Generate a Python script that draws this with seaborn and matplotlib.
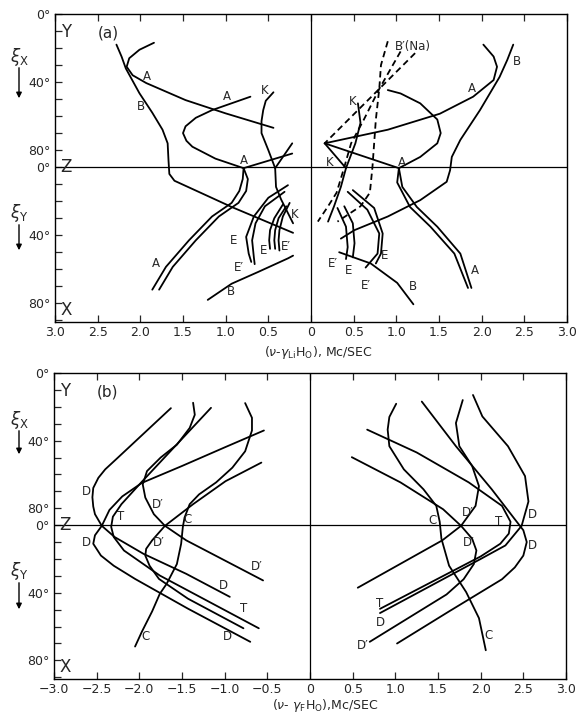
import numpy as np
import pandas as pd
import matplotlib
matplotlib.use("Agg")
import matplotlib.pyplot as plt
import seaborn as sns

# angle axis runs 0..90 for xi_X (Y -> Z) and 90..180 for xi_Y (Z -> X)

# ---------------- panel (a) ----------------
a_B_left = [(-2.28, 18), (-2.22, 25), (-2.17, 32), (-2.01, 46.6), (-1.86, 58), (-1.74, 68), (-1.68, 76),
            (-1.67, 86), (-1.66, 94), (-1.6, 98), (-0.93, 113.4), (-0.21, 128.6)]
a_A_top_left = [(-1.84, 16.9), (-2.01, 21), (-2.13, 26), (-2.16, 31), (-2.09, 36), (-1.93, 40.6),
                (-1.47, 50.6), (-1.0, 58.4), (-0.44, 66.9)]
a_A_loop_left = [(-0.71, 48.6), (-1.16, 56.5), (-1.35, 61), (-1.47, 66), (-1.5, 70), (-1.46, 74.5),
                 (-1.39, 78), (-1.12, 85), (-0.79, 90.6)]
a_A_ray_left = [(-0.79, 90.6), (-0.22, 82)]
a_K_left = [(-0.44, 46), (-0.53, 51), (-0.56, 56.5), (-0.58, 63), (-0.58, 70), (-0.5, 80), (-0.42, 90.6),
            (-0.41, 101.6), (-0.35, 109), (-0.27, 117), (-0.21, 123)]
a_K_ray_left = [(-0.42, 90.6), (-0.22, 76)]
a_A_low_left_out = [(-0.79, 90.6), (-0.8, 97), (-0.84, 104), (-0.93, 111), (-1.16, 119), (-1.43, 133),
                    (-1.7, 148.6), (-1.86, 162)]
a_A_low_left_in = [(-0.79, 90.6), (-0.74, 97), (-0.76, 104), (-0.85, 111), (-1.08, 119), (-1.35, 133),
                   (-1.62, 148.6), (-1.78, 162)]
a_E1_left = [(-0.27, 100.6), (-0.5, 108), (-0.67, 119), (-0.76, 131), (-0.73, 140.8), (-0.7, 145.7)]
a_E2_left = [(-0.31, 104.5), (-0.54, 113), (-0.65, 123), (-0.69, 133), (-0.67, 142.8), (-0.66, 147)]
a_E3_left = [(-0.33, 112), (-0.43, 120), (-0.48, 127), (-0.49, 133), (-0.48, 138)]
a_E4_left = [(-0.29, 113), (-0.38, 120), (-0.42, 127), (-0.43, 133), (-0.42, 138)]
a_E5_left = [(-0.25, 111), (-0.33, 119), (-0.37, 127), (-0.38, 133), (-0.37, 139)]
a_B_low_left = [(-1.21, 168), (-0.93, 158.5), (-0.62, 151.6), (-0.27, 143.6), (-0.21, 142)]

a_B_right = [(2.37, 18), (2.3, 27), (2.21, 37), (1.98, 56.5), (1.75, 74), (1.65, 84), (1.63, 91.8),
             (1.59, 98.6), (1.28, 109.4), (0.9, 119), (0.51, 127), (0.35, 132)]
a_A_loop_right = [(1.03, 90.6), (1.28, 84), (1.48, 76), (1.52, 70), (1.48, 62), (1.28, 52.5),
                  (1.05, 46.7), (0.9, 44.7)]
a_A_ray_right = [(0.16, 76), (1.03, 90.6)]
a_A_right = [(0.16, 76), (0.9, 68), (1.51, 58.6), (1.9, 48.6), (2.14, 38.8), (2.18, 31), (2.14, 25), (2.02, 18)]
a_A_low_right_out = [(1.03, 90.6), (1.07, 101.6), (1.24, 113.4), (1.48, 125), (1.75, 140.8), (1.88, 161)]
a_A_low_right_in = [(1.03, 90.6), (1.01, 99), (1.16, 113.4), (1.4, 125), (1.68, 140.8), (1.84, 161)]
a_K_right = [(0.55, 52.5), (0.58, 64), (0.52, 76), (0.41, 90.6), (0.35, 101.6), (0.27, 113), (0.2, 122)]
a_K_ray_right = [(0.16, 76), (0.41, 90.6)]
a_Na1 = [(1.22, 23), (0.8, 44), (0.16, 76)]
a_Na2 = [(1.05, 22), (0.8, 44), (0.62, 62), (0.47, 76), (0.39, 90), (0.3, 105), (0.2, 113), (0.08, 122)]
a_Na3 = [(0.9, 16), (0.82, 30), (0.8, 44), (0.76, 62), (0.72, 90), (0.69, 105), (0.58, 113), (0.31, 122)]
a_E1_right = [(0.49, 103.5), (0.74, 114), (0.84, 129), (0.82, 140.8), (0.76, 146.6)]
a_E2_right = [(0.43, 104.5), (0.66, 115), (0.8, 129), (0.78, 140.8), (0.64, 149)]
a_E3_right = [(0.31, 114), (0.41, 125), (0.43, 137), (0.41, 144)]
a_E4_right = [(0.39, 113), (0.49, 123), (0.51, 134.7), (0.49, 143)]
a_B_low_right = [(0.33, 140), (0.7, 146.6), (1.01, 158), (1.2, 170.6)]

a_labels = [("A", -1.92, 37), ("A", -0.99, 48.6), ("B", -1.99, 54.5), ("K", -0.54, 44.7), ("A", -0.79, 86),
            ("K", -0.19, 118), ("E", -0.91, 133), ("E", -0.56, 139), ("E′", -0.29, 136.5), ("E′", -0.85, 148.8),
            ("A", -1.82, 146.6), ("B", -0.94, 163),
            ("B′(Na)", 1.19, 19.2), ("B", 2.41, 28), ("A", 1.88, 43.7), ("K", 0.49, 51.6), ("K", 0.22, 87),
            ("A", 1.07, 87), ("E", 0.86, 141.8), ("E′", 0.26, 146.6), ("E", 0.44, 151), ("E′", 0.64, 159.4),
            ("A", 1.92, 150.6), ("B", 1.2, 160.4)]

# ---------------- panel (b) ----------------
b_D_up_L = [(-1.63, 20.8), (-2.25, 50), (-2.4, 57), (-2.48, 62), (-2.54, 68), (-2.55, 73.5), (-2.54, 79),
            (-2.52, 83.5), (-2.44, 90.4), (-2.29, 97), (-1.95, 107), (-1.45, 118.8), (-0.94, 132.4)]
b_T_L = [(-1.16, 20.6), (-1.97, 64.3), (-2.21, 77.6), (-2.31, 85), (-2.33, 91), (-2.3, 97), (-2.18, 105),
         (-1.76, 119.8), (-0.6, 151)]
b_D_low_L = [(-0.54, 34), (-1.0, 44), (-1.5, 55), (-1.97, 65), (-2.2, 73), (-2.35, 81), (-2.44, 90.4),
             (-2.52, 96), (-2.54, 101), (-2.45, 108), (-2.3, 114), (-2.05, 121.8), (-1.43, 139.4), (-0.7, 159)]
b_Dp_low_L = [(-0.57, 53), (-0.99, 64), (-1.37, 77.6), (-1.7, 90.4), (-1.85, 99), (-1.92, 104), (-1.93, 108),
              (-1.88, 114), (-1.77, 121.8), (-1.43, 133.5), (-0.78, 151)]
b_Dp_S_L = [(-1.37, 17.6), (-1.35, 24.7), (-1.41, 32.5), (-1.56, 42.4), (-1.75, 50), (-1.91, 58), (-1.96, 65.9),
            (-1.93, 73.7), (-1.83, 83.5), (-1.7, 90.4), (-1.45, 99), (-0.55, 122.7)]
b_C_L = [(-0.76, 17.8), (-0.68, 26.5), (-0.68, 34), (-0.76, 46.3), (-0.91, 56), (-1.1, 64.7), (-1.3, 71.8),
         (-1.41, 77.6), (-1.47, 85.5), (-1.49, 91), (-1.51, 101), (-1.56, 113), (-1.68, 124.7), (-1.76, 130.6),
         (-1.85, 141), (-1.97, 153), (-2.05, 161.8)]

b_C_R = [(1.01, 18.2), (0.93, 26), (0.91, 33.5), (0.93, 43.3), (1.1, 57), (1.33, 68.8), (1.48, 78.6),
         (1.52, 88), (1.54, 98), (1.63, 114), (1.83, 129.6), (1.98, 145), (2.06, 164)]
b_Dp_S_R = [(1.79, 16), (1.71, 29.6), (1.75, 43.3), (1.9, 55), (1.98, 66.9), (1.94, 78.6), (1.77, 90.4),
            (1.55, 99), (0.56, 127)]
b_D_S_R = [(1.91, 13), (2.02, 25.7), (2.32, 43.3), (2.52, 61), (2.56, 76), (2.48, 90.4), (2.29, 102),
           (2.0, 110), (0.82, 142)]
b_T_R = [(0.67, 33.5), (1.25, 47), (1.86, 64.7), (2.25, 78.6), (2.35, 88), (2.33, 95), (2.23, 101),
         (2.0, 108.5), (0.82, 139.5)]
b_D_low_R = [(1.31, 16.9), (1.71, 43.3), (2.13, 68.8), (2.4, 86.5), (2.5, 93), (2.54, 100), (2.5, 108),
             (2.4, 115), (2.25, 122), (1.63, 141), (1.02, 160)]
b_Dp_low_R = [(0.49, 49.8), (1.06, 64.7), (1.56, 80.6), (1.77, 90.4), (1.9, 98), (1.95, 105), (1.92, 113),
              (1.8, 122), (1.6, 131), (0.7, 159)]

b_labels = [("D", -2.62, 69.8), ("T", -2.22, 85), ("D′", -1.79, 77.6), ("C", -1.43, 86.5), ("D", -2.62, 100),
            ("D′", -1.77, 100), ("D′", -0.62, 114.7), ("D", -1.01, 125.7), ("T", -0.78, 139.4), ("D", -0.97, 156),
            ("C", -1.93, 156),
            ("C", 1.43, 87.5), ("D′", 1.85, 82.5), ("T", 2.21, 88), ("D", 2.61, 83.5), ("D′", 1.86, 100),
            ("D", 2.61, 102), ("T", 0.82, 136.5), ("D", 0.82, 147.5), ("D′", 0.62, 161), ("C", 2.09, 155)]

a_curves = [a_B_left, a_A_top_left, a_A_loop_left, a_A_ray_left, a_K_left, a_K_ray_left, a_A_low_left_out,
            a_A_low_left_in, a_E1_left, a_E2_left, a_E3_left, a_E4_left, a_E5_left, a_B_low_left,
            a_B_right, a_A_loop_right, a_A_ray_right, a_A_right, a_A_low_right_out, a_A_low_right_in,
            a_K_right, a_K_ray_right, a_E1_right, a_E2_right, a_E3_right, a_E4_right, a_B_low_right]
a_dashed = [a_Na1, a_Na2, a_Na3]
b_curves = [b_D_up_L, b_T_L, b_D_low_L, b_Dp_low_L, b_Dp_S_L, b_C_L,
            b_C_R, b_Dp_S_R, b_D_S_R, b_T_R, b_D_low_R, b_Dp_low_R]

xticks = np.arange(-3, 3.01, 0.5)
yticks = np.arange(0, 181, 10)
ytick_names = {0: "0°", 40: "40°", 80: "80°", 90: "0°", 130: "40°", 170: "80°"}


def to_frame(solid, dashed):
    rows = []
    k = 0
    for group, kind in ((solid, "solid"), (dashed, "dashed")):
        for pts in group:
            for v, d in pts:
                rows.append((k, v, d, kind))
            k += 1
    return pd.DataFrame(rows, columns=["curve", "nu", "ang", "kind"])


def draw_panel(ax, df, labels, tag, xnames):
    sns.lineplot(data=df, x="nu", y="ang", units="curve", estimator=None, sort=False,
                 style="kind", dashes={"solid": "", "dashed": (3.5, 2.2)},
                 color="black", lw=1.3, legend=False, ax=ax)
    ax.axhline(90, color="black", lw=0.9)
    ax.axvline(0, color="black", lw=0.9)
    for t, v, d in labels:
        ax.text(v, d, t, ha="center", va="center", fontsize=8.5)
    ax.text(-2.87, 10.5, "Y", ha="center", va="center", fontsize=12)
    ax.text(-2.87, 90, "Z", ha="center", va="center", fontsize=12)
    ax.text(-2.87, 174, "X", ha="center", va="center", fontsize=12)
    ax.text(-2.37, 11, tag, ha="center", va="center", fontsize=11)
    ax.set_xlim(-3, 3)
    ax.set_ylim(181, 0)
    ax.set_xticks(xticks)
    ax.set_xticklabels(xnames)
    ax.set_yticks(yticks)
    ax.set_yticklabels([ytick_names.get(int(t), "") for t in yticks])
    ax.tick_params(direction="in", top=True, length=5, width=0.9, labelsize=9, pad=3)
    ax.set_xlabel("")
    ax.set_ylabel("")
    for s in ax.spines.values():
        s.set_linewidth(1.0)
        s.set_color("black")


sns.set_style("ticks")
plt.rcParams["font.family"] = ["DejaVu Sans"]
plt.rcParams["mathtext.fontset"] = "dejavusans"

fig = plt.figure(figsize=(5.79, 7.16), dpi=100)
ax1 = fig.add_axes([55 / 579, 1 - 322 / 716, 512 / 579, 308 / 716])
ax2 = fig.add_axes([54 / 579, 1 - 679 / 716, 512 / 579, 306 / 716])

names_a = ["0" if abs(t) < 1e-9 else f"{abs(t):.1f}" for t in xticks]
names_b = ["0" if abs(t) < 1e-9 else f"{t:.1f}".replace("-", "−") for t in xticks]

draw_panel(ax1, to_frame(a_curves, a_dashed), a_labels, "(a)", names_a)
draw_panel(ax2, to_frame(b_curves, []), b_labels, "(b)", names_b)

fig.text(318 / 579, 1 - 353 / 716, r"($\nu$-$\gamma_{\rm Li}$H$_{\rm O}$), Mc/SEC", ha="center", va="center", fontsize=9)
fig.text(325 / 579, 1 - 706 / 716, r"($\nu$- $\gamma_{\rm F}$H$_{\rm O}$),Mc/SEC", ha="center", va="center", fontsize=9)

# xi labels and arrows at the left margin
for txt, ty, a0, a1 in [(r"$\xi_{\rm X}$", 57, 65, 101), (r"$\xi_{\rm Y}$", 213, 222, 253),
                        (r"$\xi_{\rm X}$", 420, 428, 457), (r"$\xi_{\rm Y}$", 571, 580, 612)]:
    fig.text(19 / 579, 1 - ty / 716, txt, ha="center", va="center", fontsize=12)
    ax1.annotate("", xy=(19, 716 - a1), xytext=(19, 716 - a0), xycoords="figure pixels",
                 textcoords="figure pixels", annotation_clip=False,
                 arrowprops=dict(arrowstyle="-|>", color="black", lw=1.0, mutation_scale=8))

fig.savefig("out.png", dpi=100)
